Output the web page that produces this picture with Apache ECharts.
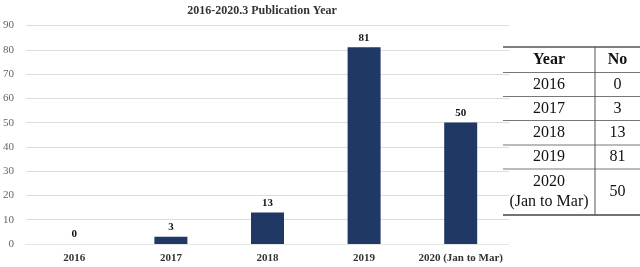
<!DOCTYPE html>
<html><head><meta charset="utf-8">
<script src="https://cdn.jsdelivr.net/npm/echarts@6/dist/echarts.min.js"></script>
<style>html,body{margin:0;padding:0;background:#fff}#c{width:640px;height:267px}</style>
</head><body><div id="c"></div>
<script>
const categories = ['2016', '2017', '2018', '2019', '2020 (Jan to Mar)'];
const counts = [0, 3, 13, 81, 50];
const yTicks = [0, 10, 20, 30, 40, 50, 60, 70, 80, 90];
const tableHeader = ['Year', 'No'];
const tableYears = ['2016', '2017', '2018', '2019', '2020\n(Jan to Mar)'];
const tableCounts = ['0', '3', '13', '81', '50'];

const serif = '"Liberation Serif", "DejaVu Serif", serif';
const chart = echarts.init(document.getElementById('c'));

// table layout
const tL = 503, tR = 640, tMid = 595;
const rowEdges = [47, 72.5, 96.5, 120.5, 145, 169, 215];
const gfx = [];
const lineStyle = (w, c) => ({ stroke: c, lineWidth: w });
gfx.push({ type: 'line', shape: { x1: tL, y1: rowEdges[0], x2: tR, y2: rowEdges[0] }, style: lineStyle(1.5, '#555') });
for (let i = 1; i < rowEdges.length - 1; i++) {
  gfx.push({ type: 'line', shape: { x1: tL, y1: rowEdges[i], x2: tR, y2: rowEdges[i] }, style: lineStyle(1, '#777') });
}
gfx.push({ type: 'line', shape: { x1: tL, y1: rowEdges[rowEdges.length - 1], x2: tR, y2: rowEdges[rowEdges.length - 1] }, style: lineStyle(1.5, '#444') });
gfx.push({ type: 'line', shape: { x1: tMid, y1: rowEdges[0], x2: tMid, y2: rowEdges[rowEdges.length - 1] }, style: lineStyle(1, '#555') });
const cx1 = (tL + tMid) / 2, cx2 = (tMid + tR) / 2;
const rows = [tableHeader].concat(tableYears.map((y, i) => [y, tableCounts[i]]));
rows.forEach((r, i) => {
  const cy = (rowEdges[i] + rowEdges[i + 1]) / 2;
  const bold = i === 0 ? 'bold' : 'normal';
  gfx.push({ type: 'text', x: cx1, y: cy, style: { text: r[0], x: 0, y: 0, align: 'center', verticalAlign: 'middle', font: bold + ' 16px ' + serif, fill: '#111', lineHeight: 20 } });
  gfx.push({ type: 'text', x: cx2, y: cy, style: { text: r[1], x: 0, y: 0, align: 'center', verticalAlign: 'middle', font: bold + ' 16px ' + serif, fill: '#111' } });
});

chart.setOption({
  animation: false,
  title: {
    text: '2016-2020.3 Publication Year',
    left: 257, top: 0, textAlign: 'center',
    textStyle: { fontFamily: serif, fontWeight: 'bold', fontSize: 12, color: '#333' }
  },
  grid: { left: 26, right: 131, top: 25.5, bottom: 23 },
  xAxis: {
    type: 'category', data: categories,
    axisLine: { show: true, lineStyle: { color: '#e6e6e6' } },
    axisTick: { show: false },
    axisLabel: { interval: 0, fontFamily: serif, fontWeight: 'bold', fontSize: 11, color: '#333', margin: 9 }
  },
  yAxis: {
    type: 'value', min: yTicks[0], max: yTicks[yTicks.length - 1], interval: 10,
    axisLine: { show: false }, axisTick: { show: false },
    axisLabel: { fontFamily: serif, fontSize: 11, color: '#666', margin: 12 },
    splitLine: { lineStyle: { color: '#dcdcdc', width: 1 } }
  },
  series: [{
    type: 'bar', data: counts, barWidth: 33,
    itemStyle: { color: '#203864' },
    label: { show: true, position: 'top', distance: 4, fontFamily: serif, fontWeight: 'bold', fontSize: 11, color: '#111' }
  }],
  graphic: gfx
});
</script></body></html>
